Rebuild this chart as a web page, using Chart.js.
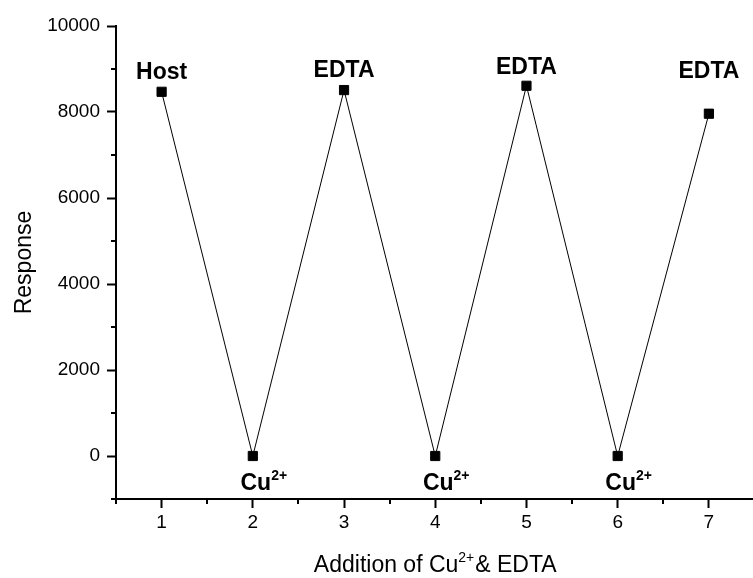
<!DOCTYPE html>
<html>
<head>
<meta charset="utf-8">
<script src="https://cdn.jsdelivr.net/npm/chart.js@4.4.0/dist/chart.umd.min.js"></script>
<style>
    html, body { margin: 0; padding: 0; background: #fff; overflow: hidden; }
    #wrap { width: 753px; height: 578px; overflow: hidden; }
    canvas { display: block; }
</style>
</head>
<body>
<div id="wrap"><canvas id="chart" width="762" height="578"></canvas></div>
<script>
// Response after each addition step
const steps = [1, 2, 3, 4, 5, 6, 7];
const response = [8470, 0, 8510, 0, 8610, 0, 7960];
const stepNames = ['Host', 'Cu', 'EDTA', 'Cu', 'EDTA', 'Cu', 'EDTA'];
const stepSups = ['', '2+', '', '2+', '', '2+', ''];

// Axis ticks
const xTicks = [1, 2, 3, 4, 5, 6, 7];
const xMinorTicks = [0.5, 1.5, 2.5, 3.5, 4.5, 5.5, 6.5, 7.5];
const yTicks = [0, 2000, 4000, 6000, 8000, 10000];
const yMinorTicks = [-1000, 1000, 3000, 5000, 7000, 9000];

const FONT = "'Liberation Sans', Arial, sans-serif";
// label baseline shift from the marker, px (negative = above)
const labelShift = [-13, 34, -13, 34, -12, 34, -36];

// draws "base" + raised superscript, centred on the base part
function drawSupText(ctx, base, sup, x, y, size, bold) {
    const w = bold ? 'bold ' : '';
    const supSize = Math.round(size * 0.6);
    ctx.font = w + size + 'px ' + FONT;
    const bw = ctx.measureText(base).width;
    const x0 = x - bw / 2;
    ctx.textAlign = 'left';
    ctx.textBaseline = 'alphabetic';
    ctx.fillText(base, x0, y);
    if (sup) {
        ctx.font = w + supSize + 'px ' + FONT;
        ctx.fillText(sup, x0 + bw, y - size * 0.45);
    }
}

const extras = {
    id: 'extras',
    afterDraw(chart) {
        const ctx = chart.ctx;
        const xs = chart.scales.x, ys = chart.scales.y;
        const area = chart.chartArea;
        ctx.save();
        ctx.fillStyle = '#000';
        ctx.strokeStyle = '#000';
        ctx.lineWidth = 2;

        // minor ticks
        ctx.beginPath();
        xMinorTicks.forEach(v => {
            const px = Math.round(xs.getPixelForValue(v));
            ctx.moveTo(px, area.bottom);
            ctx.lineTo(px, area.bottom + 5);
        });
        yMinorTicks.forEach(v => {
            const py = Math.round(ys.getPixelForValue(v));
            ctx.moveTo(area.left, py);
            ctx.lineTo(area.left - 5, py);
        });
        ctx.stroke();

        // point labels
        const meta = chart.getDatasetMeta(0);
        meta.data.forEach((pt, i) => {
            drawSupText(ctx, stepNames[i], stepSups[i], pt.x + (stepSups[i] ? 3 : 0),
                pt.y + labelShift[i], 23, true);
        });

        // axis titles
        const cx = (area.left + area.right) / 2;
        ctx.font = '23px ' + FONT;
        const partA = 'Addition of Cu', partB = '& EDTA';
        const wA = ctx.measureText(partA).width;
        const wB = ctx.measureText(partB).width;
        ctx.font = '14px ' + FONT;
        const wS = ctx.measureText('2+').width;
        const tx = cx - (wA + wS + wB + 1) / 2;
        const ty = 572;
        ctx.textAlign = 'left';
        ctx.textBaseline = 'alphabetic';
        ctx.font = '23px ' + FONT;
        ctx.fillText(partA, tx, ty);
        ctx.font = '14px ' + FONT;
        ctx.fillText('2+', tx + wA, ty - 10);
        ctx.font = '23px ' + FONT;
        ctx.fillText(partB, tx + wA + wS + 1, ty);

        ctx.translate(31, (area.top + area.bottom) / 2);
        ctx.rotate(-Math.PI / 2);
        ctx.textAlign = 'center';
        ctx.fillText('Response', 0, 0);
        ctx.restore();
    }
};

new Chart(document.getElementById('chart'), {
    type: 'scatter',
    data: {
        datasets: [{
            data: steps.map((s, i) => ({ x: s, y: response[i] })),
            showLine: true,
            borderColor: '#000',
            borderWidth: 1,
            pointStyle: 'rect',
            pointRadius: 6.5,
            pointHoverRadius: 6.5,
            pointBackgroundColor: '#000',
            pointBorderColor: '#000',
            pointBorderWidth: 1
        }]
    },
    options: {
        responsive: false,
        animation: false,
        layout: { padding: { top: 26, right: 2, left: 0, bottom: 0 } },
        plugins: { legend: { display: false }, tooltip: { enabled: false } },
        scales: {
            x: {
                type: 'linear',
                min: 0.5,
                max: 7.5,
                afterBuildTicks: s => { s.ticks = xTicks.map(v => ({ value: v })); },
                afterFit: s => { s.height = 79; },
                grid: { drawOnChartArea: false, drawTicks: true, tickLength: 9, tickWidth: 2, tickColor: '#000' },
                border: { display: true, color: '#000', width: 2 },
                ticks: { color: '#000', font: { family: FONT, size: 19 }, padding: 3, maxRotation: 0, autoSkip: false,
                    callback: v => String(v) }
            },
            y: {
                type: 'linear',
                min: -1000,
                max: 10000,
                afterBuildTicks: s => { s.ticks = yTicks.map(v => ({ value: v })); },
                afterFit: s => { s.width = 116; },
                grid: { drawOnChartArea: false, drawTicks: true, tickLength: 9, tickWidth: 2, tickColor: '#000' },
                border: { display: true, color: '#000', width: 2 },
                ticks: { color: '#000', font: { family: FONT, size: 19 }, padding: 7,
                    callback: v => String(v) }
            }
        }
    },
    plugins: [extras]
});
</script>
</body>
</html>
